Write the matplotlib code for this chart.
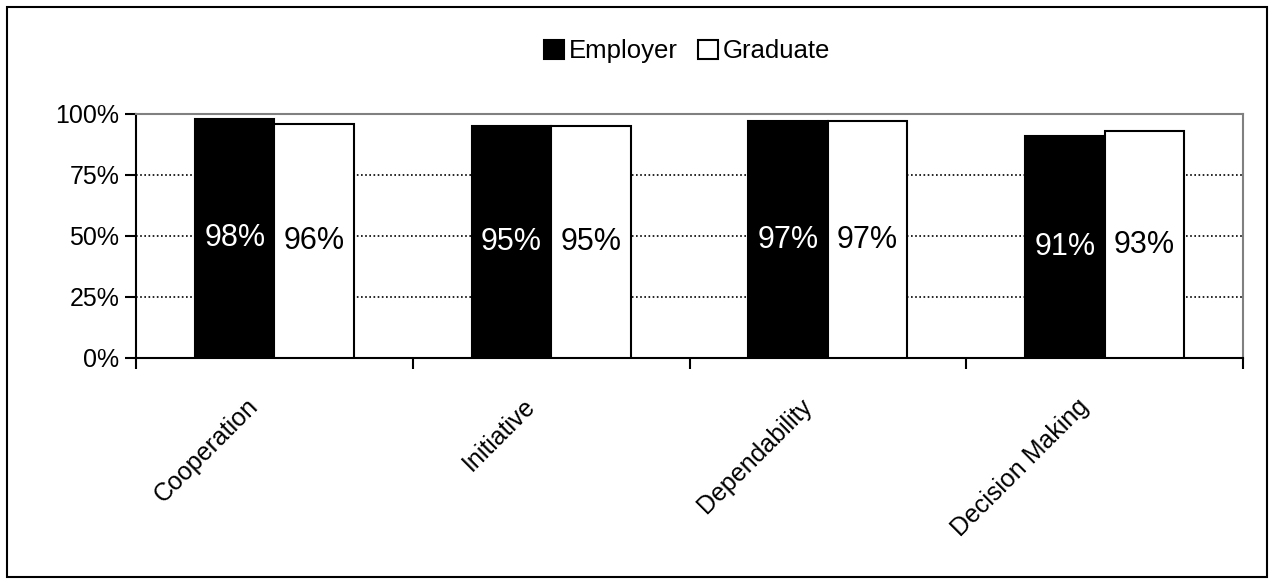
import numpy as np
import matplotlib
matplotlib.use("Agg")
import matplotlib.pyplot as plt
import matplotlib.transforms as mtransforms
from matplotlib.patches import Rectangle

categories = ["Cooperation", "Initiative", "Dependability", "Decision Making"]
employer = [98, 95, 97, 91]
graduate = [96, 95, 97, 93]
yticks = [0, 25, 50, 75, 100]

plt.rcParams["font.family"] = ["Liberation Sans", "DejaVu Sans"]

fig = plt.figure(figsize=(12.75, 5.84), dpi=100)
ax = fig.add_axes([0.1067, 0.387, 0.8682, 0.4178])

x = np.arange(len(categories))
w = 0.287

b1 = ax.bar(x - w / 2, employer, w, color="black", edgecolor="black", linewidth=1.5,
            label="Employer", zorder=3)
b2 = ax.bar(x + w / 2, graduate, w, color="white", edgecolor="black", linewidth=1.5,
            label="Graduate", zorder=3)

# value labels in the middle of each bar
for xi, v in zip(x - w / 2, employer):
    ax.text(xi, v / 2, f"{v}%", ha="center", va="center", color="white", fontsize=22, zorder=4)
for xi, v in zip(x + w / 2, graduate):
    ax.text(xi, v / 2, f"{v}%", ha="center", va="center", color="black", fontsize=22, zorder=4)

ax.set_xlim(-0.5, len(categories) - 0.5)
ax.set_ylim(0, 100)
ax.set_yticks(yticks)
ax.set_yticklabels([f"{t}%" for t in yticks], fontsize=18)

# ticks at category boundaries, labels centred under categories
ax.set_xticks(np.arange(len(categories) + 1) - 0.5)
ax.set_xticklabels([])
ax.set_xticks(x, minor=True)
ax.set_xticklabels(categories, minor=True, rotation=45, ha="right", rotation_mode="anchor",
                   fontsize=18)
ax.tick_params(axis="x", which="minor", length=0, pad=26)
ax.tick_params(axis="x", which="major", direction="out", length=8, width=1.5)
ax.tick_params(axis="y", direction="out", length=8, width=1.5, pad=4)

shift = mtransforms.ScaledTranslation(-0.28, 0, fig.dpi_scale_trans)
for lbl in ax.get_xticklabels(minor=True):
    lbl.set_transform(lbl.get_transform() + shift)

for t in [25, 50, 75]:
    ax.axhline(t, color="black", linestyle=(0, (1, 1.5)), linewidth=1.2, zorder=1)

ax.spines["left"].set_linewidth(1.5)
ax.spines["bottom"].set_linewidth(1.5)
ax.spines["top"].set_color("#808080")
ax.spines["right"].set_color("#808080")
ax.spines["top"].set_linewidth(1.5)
ax.spines["right"].set_linewidth(1.5)

fig.legend(handles=[b1, b2], loc="center", bbox_to_anchor=(0.539, 0.912), ncol=2,
           frameon=False, fontsize=18.5, handlelength=0.75, handleheight=0.75,
           handletextpad=0.2, columnspacing=0.8)

# outer chart border
fig.patches.append(Rectangle((7 / 1275, 7 / 584), 1260 / 1275, 570 / 584,
                             transform=fig.transFigure, fill=False, edgecolor="black",
                             linewidth=1.5))

fig.savefig("out.png", dpi=100)
plt.close(fig)
